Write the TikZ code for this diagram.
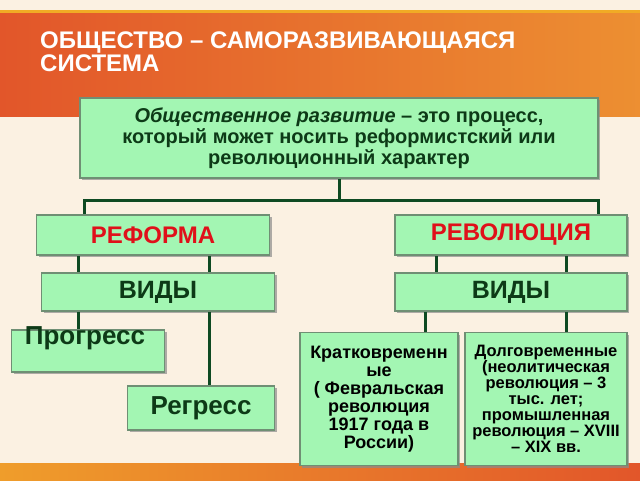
\documentclass[tikz,border=0pt]{standalone}
\usepackage{fontspec}
\setmainfont{Liberation Sans}
\usetikzlibrary{shadows}
\definecolor{bg}{HTML}{FBF1E2}
\definecolor{orng}{HTML}{E8733E}
\definecolor{orngd}{HTML}{E2562A}
\definecolor{boxg}{HTML}{A3F6B3}
\definecolor{edge}{HTML}{6F8F74}
\definecolor{ln}{HTML}{0E4A22}
\definecolor{txt}{HTML}{0D3A17}
\definecolor{redt}{HTML}{E0101A}
\begin{document}
\begin{tikzpicture}[x=1pt,y=-1pt,
  gbox/.style={draw=edge,line width=1.8pt,fill=boxg,inner sep=2pt,
    drop shadow={shadow xshift=2pt,shadow yshift=-2pt,fill=black!45,opacity=.7}},
  conn/.style={draw=ln,line width=3pt},
  font=\bfseries]
\useasboundingbox (0,0) rectangle (640,480);
\fill[bg] (0,0) rectangle (640,480);
\shade[left color=orngd,right color=orng!80!yellow] (0,12) rectangle (640,116);
\fill[orng!60!yellow] (0,10) rectangle (640,13);
\shade[left color=orng!70!yellow,right color=orngd] (0,463) rectangle (640,480);
\node[anchor=north west,text=white,font=\bfseries\fontsize{24}{20}\selectfont,align=left,inner sep=0pt] (title) at (40,32) {ОБЩЕСТВО – САМОРАЗВИВАЮЩАЯСЯ\\СИСТЕМА};
\node[gbox,minimum width=518,minimum height=80,align=center,text=txt,font=\bfseries\fontsize{20}{21}\selectfont] (main) at (339,138)
 {\textit{Общественное развитие} – это процесс,\\который может носить реформистский или\\революционный характер};
\node[gbox,minimum width=233,minimum height=40,text=redt,font=\bfseries\fontsize{24}{24}\selectfont] (ref) at (153,235) {РЕФОРМА};
\node[gbox,minimum width=232,minimum height=40,text=redt,font=\bfseries\fontsize{24}{24}\selectfont] (rev) at (511,235) {РЕВОЛЮЦИЯ};
\node[gbox,minimum width=233,minimum height=38,text=txt,font=\bfseries\fontsize{25}{25}\selectfont] (v1) at (158,292) {ВИДЫ};
\node[gbox,minimum width=232,minimum height=38,text=txt,font=\bfseries\fontsize{25}{25}\selectfont] (v2) at (511,292) {ВИДЫ};
\node[gbox,minimum width=153,minimum height=42] (prog) at (88,351) {};
\node[anchor=north,text=txt,font=\bfseries\fontsize{26}{26}\selectfont] (progt) at (85,323) {Прогресс};
\node[gbox,minimum width=147,minimum height=44,text=txt,font=\bfseries\fontsize{26}{26}\selectfont] (reg) at (201,408) {Регресс};
\node[gbox,minimum width=158,minimum height=133,align=center,text=black,font=\bfseries\fontsize{18}{18}\selectfont] (kr) at (379,399)
 {Кратковременн\\ые\\( Февральская\\революция\\1917 года в\\России)};
\node[gbox,minimum width=162,minimum height=133,align=center,text=black,font=\bfseries\fontsize{16.5}{16}\selectfont] (dl) at (546,399)
 {Долговременные\\(неолитическая\\революция – 3\\тыс. лет;\\промышленная\\революция – XVIII\\– XIX вв.};
\draw[conn] (main.south) -- ++(0,22) coordinate (j);
\draw[conn] (ref.north -| 84,0) |- (j) -| (rev.north -| 598,0);
\draw[conn] (ref.south -| 78,0) -- (v1.north -| 78,0);
\draw[conn] (ref.south -| 209,0) -- (v1.north -| 209,0);
\draw[conn] (rev.south -| 436,0) -- (v2.north -| 436,0);
\draw[conn] (rev.south -| 566,0) -- (v2.north -| 566,0);
\draw[conn] (v1.south -| 78,0) -- (prog.north -| 78,0);
\draw[conn] (v1.south -| 209,0) -- (reg.north -| 209,0);
\draw[conn] (v2.south -| 425,0) -- (kr.north -| 425,0);
\draw[conn] (v2.south -| 566,0) -- (dl.north -| 566,0);
\end{tikzpicture}
\end{document}
